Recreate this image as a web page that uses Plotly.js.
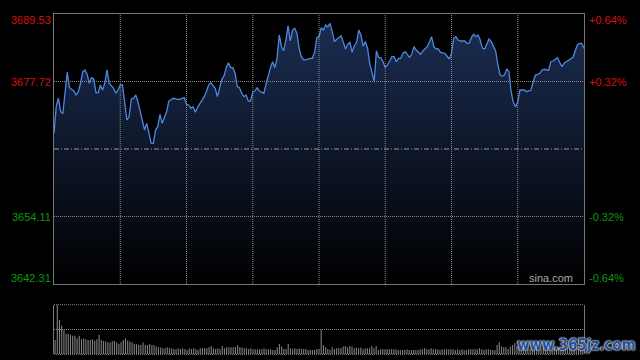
<!DOCTYPE html>
<html><head><meta charset="utf-8">
<script src="https://cdn.plot.ly/plotly-3.0.1.min.js"></script>
<style>html,body{margin:0;padding:0;background:#000;}</style>
</head><body><div id="chart" style="width:640px;height:360px;"></div>
<script>
// Intraday index (minute offset from 09:30, trading minutes)
const minutes = [0,1,2,3,4,5,6,7,9,10,11,12,13,14,15,16,17,18,19,20,21,22,23,24,25,27,28,29,30,31,32,33,34,35,36,37,38,39,40,41,42,43,44,45,46,47,48,49,50,51,52,53,54,56,57,59,60,61,62,63,64,65,67,68,69,70,71,72,73,74,75,76,77,78,79,80,81,82,83,84,85,86,87,88,89,90,91,92,93,95,96,97,98,99,100,101,102,103,104,105,106,107,108,109,110,111,112,113,114,116,117,118,119,120,121,122,123,124,125,126,127,128,130,131,132,133,134,135,136,137,138,139,140,141,142,143,144,145,146,147,148,149,150,151,153,154,155,156,157,158,159,160,161,162,163,164,166,167,169,170,171,172,173,174,175,177,178,179,180,181,182,183,184,186,187,188,189,190,191,192,193,194,195,196,197,198,199,200,201,202,203,204,205,206,207,208,209,210,211,212,213,214,215,216,217,218,219,220,221,222,223,224,225,226,227,228,229,230,231,232,234,235,236,237,238,239,240];
const prices = [3668.67,3673.32,3674.79,3672.44,3672.16,3675.94,3679.33,3676.64,3676.06,3675.36,3675.94,3677.41,3679.44,3679.74,3678.98,3677.41,3678.39,3678.16,3675.77,3675.77,3677.11,3676.24,3677.41,3679.74,3677.41,3676.54,3675.66,3676.24,3677.11,3677.11,3674.19,3670.99,3671.57,3674.66,3674.79,3675.36,3674.19,3672.44,3671.29,3669.24,3670.41,3668.37,3666.92,3666.92,3669.24,3669.82,3671.99,3670.41,3671.29,3672.44,3674.31,3674.49,3674.79,3674.61,3674.61,3674.89,3673.74,3673.62,3673.04,3673.32,3672.34,3673.21,3674.31,3675.07,3675.94,3677.11,3677.52,3676.99,3676.54,3675.07,3676.82,3678.11,3678.69,3680.14,3681.01,3680.14,3680.14,3679.16,3676.82,3676.64,3675.66,3675.07,3675.36,3674.31,3674.31,3675.94,3676.06,3676.64,3676.06,3675.66,3677.24,3678.86,3680.14,3681.19,3680.14,3681.78,3685.86,3683.81,3683.11,3684.98,3687.48,3684.81,3686.73,3687.03,3686.15,3683.53,3682.06,3681.49,3681.49,3681.78,3681.78,3682.83,3685.39,3685.56,3687.13,3686.73,3687.61,3687.31,3687.90,3686.43,3684.69,3685.11,3685.73,3684.58,3683.41,3684.23,3684.58,3682.83,3683.99,3684.58,3686.73,3685.86,3683.93,3684.72,3683.53,3680.79,3679.44,3677.81,3683.11,3681.89,3681.89,3681.19,3680.14,3680.61,3682.06,3682.06,3681.19,3681.78,3681.78,3682.66,3682.94,3682.53,3681.96,3682.48,3683.81,3683.23,3682.48,3683.06,3683.81,3684.69,3685.56,3683.81,3683.41,3683.41,3682.83,3682.66,3682.24,3681.66,3682.66,3685.28,3685.56,3684.98,3684.81,3684.81,3684.41,3684.41,3685.39,3685.98,3685.56,3685.86,3684.98,3683.53,3683.41,3684.41,3685.16,3684.69,3683.99,3683.06,3680.61,3678.86,3678.69,3678.86,3679.91,3679.44,3675.94,3674.09,3673.32,3674.19,3676.24,3676.24,3676.24,3675.94,3676.06,3676.24,3677.69,3678.86,3678.98,3679.16,3679.74,3679.86,3679.74,3679.74,3681.19,3681.31,3681.61,3681.89,3681.08,3680.31,3680.91,3681.19,3681.61,3681.96,3683.06,3684.11,3684.41,3684.41,3683.53];
// Volume per minute (relative units), minute 0..240
const volumes = [43,148,103,85,73,61,61,58,55,55,48,55,45,48,45,43,43,45,41,45,58,43,40,38,36,35,40,40,35,31,36,43,48,41,38,36,31,30,28,28,35,28,28,31,28,28,23,21,20,18,18,21,18,18,15,15,18,16,18,16,13,18,16,18,15,13,18,18,18,18,21,25,18,16,18,16,
25,18,21,21,21,21,21,28,21,21,18,18,16,18,15,15,15,15,15,18,15,15,15,13,13,21,31,23,16,16,31,18,16,18,16,18,16,16,16,13,13,13,13,16,16,
73,
28,21,16,13,21,16,18,18,18,23,25,21,25,23,18,20,18,20,15,18,18,18,25,18,25,13,15,15,15,15,15,15,15,15,13,13,13,13,15,13,13,13,13,13,15,15,18,15,15,18,15,15,15,13,15,15,15,15,15,15,13,15,13,15,13,13,15,15,15,15,15,18,15,13,15,15,13,13,13,28,36,23,21,21,16,23,28,33,
25,20,18,22,18,20,16,18,22,20,18,16,20,18,22,25,20,18,16,20,18,22,20,18,25,22,20,18,24,28,22];
const volMinutes = volumes.map((v, i) => i);
const prevClose = 3665.92;
const priceTicks = [3689.53, 3677.72, 3654.11, 3642.31];
const pctLabels = ['+0.64%', '+0.32%', '-0.32%', '-0.64%'];
const gridMinutes = [30, 60, 90, 120, 150, 180, 210];

const FONT = 'Arial, "Liberation Sans", sans-serif';
const RED = '#d81010', GREEN = '#0a9a0a';
const GRID = '#8a8a8a', FRAME = '#767676';

const traces = [
  {
    x: minutes, y: prices, type: 'scatter', mode: 'lines',
    line: {color: '#4c88e0', width: 1.3},
    fill: 'tozeroy',
    fillgradient: {type: 'vertical', start: priceTicks[3], stop: priceTicks[0],
      colorscale: [[0, '#000000'], [1, '#1c2e54']]},
    xaxis: 'x', yaxis: 'y', hoverinfo: 'skip'
  },
  {
    x: volMinutes, y: volumes, type: 'bar', width: 0.5,
    marker: {color: '#808080', line: {width: 0}},
    xaxis: 'x2', yaxis: 'y2', hoverinfo: 'skip'
  }
];

const annotations = [];
priceTicks.forEach((v, i) => {
  const col = v > prevClose ? RED : GREEN;
  const ys = i === 0 ? -6 : (i === priceTicks.length - 1 ? 6 : 0);
  annotations.push({xref: 'paper', x: 0, xanchor: 'right', xshift: -1, yref: 'y', y: v,
    yanchor: 'middle', yshift: ys, text: v.toFixed(2), showarrow: false,
    font: {color: col, size: 11, family: FONT}});
  annotations.push({xref: 'paper', x: 1, xanchor: 'left', xshift: 3, yref: 'y', y: v,
    yanchor: 'middle', yshift: ys, text: pctLabels[i], showarrow: false,
    font: {color: col, size: 11, family: FONT}});
});
annotations.push({xref: 'paper', x: 1, xanchor: 'right', xshift: -9, yref: 'y', y: priceTicks[3],
  yanchor: 'middle', yshift: 6, text: 'sina.com', showarrow: false,
  font: {color: '#a8a8a8', size: 11, family: FONT}});
annotations.push({xref: 'paper', x: 1, xanchor: 'left', xshift: -69, yref: 'paper', y: 0.042,
  yanchor: 'middle', text: 'www.365jz.com', showarrow: false,
  font: {color: '#22509c', size: 15, family: '"DejaVu Sans Condensed", "DejaVu Sans", sans-serif', weight: 'bold',
    shadow: '0 0 2px #e0e0e0, 0 0 2px #e0e0e0, 0 0 1px #ffffff'}});

// grid drawn above the filled area, as in the reference
const gridShapes = gridMinutes.map(m => ({type: 'line', layer: 'above', xref: 'x', x0: m, x1: m,
  yref: 'y domain', y0: 0, y1: 1, line: {color: GRID, width: 1, dash: '1px,1px'}}))
  .concat([priceTicks[1], priceTicks[2]].map(p => ({type: 'line', layer: 'above', xref: 'x domain',
  x0: 0, x1: 1, yref: 'y', y0: p, y1: p, line: {color: GRID, width: 1, dash: '1px,1px'}})));

const layout = {
  width: 640, height: 360,
  margin: {l: 54, r: 56, t: 0, b: 0},
  paper_bgcolor: '#000000', plot_bgcolor: '#000000',
  showlegend: false,
  xaxis: {domain: [0, 1], range: [0, 240], anchor: 'y', showticklabels: false, ticks: '',
    showgrid: false, zeroline: false, showline: true, mirror: true, linecolor: FRAME, linewidth: 1},
  yaxis: {domain: [0.21111, 0.96111], range: [priceTicks[3], priceTicks[0]], anchor: 'x',
    showticklabels: false, ticks: '', showgrid: false, zeroline: false,
    showline: true, mirror: true, linecolor: FRAME, linewidth: 1},
  xaxis2: {domain: [0, 1], range: [-0.5, 240.5], anchor: 'y2', showticklabels: false, ticks: '',
    showgrid: false, zeroline: false, showline: false},
  yaxis2: {domain: [0.01583, 0.15361], range: [0, 148], anchor: 'x2', tickvals: [74],
    showticklabels: false, ticks: '', showgrid: true, gridcolor: GRID, griddash: '1px,1px',
    zeroline: false, showline: true, mirror: true, linecolor: FRAME, linewidth: 1},
  shapes: gridShapes.concat([
    {type: 'line', layer: 'above', xref: 'x domain', x0: 0, x1: 1, yref: 'y', y0: prevClose, y1: prevClose,
      line: {color: '#9a9a9a', width: 1, dash: '5px,2px,1px,2px'}},
    {type: 'line', xref: 'x2 domain', x0: 0, x1: 1, yref: 'y2 domain', y0: 1, y1: 1,
      line: {color: GRID, width: 1, dash: '1px,1px'}},
    {type: 'line', xref: 'x2 domain', x0: 0, x1: 1, yref: 'y2 domain', y0: 0, y1: 0,
      line: {color: GRID, width: 1, dash: '1px,1px'}}
  ]),
  annotations: annotations
};

Plotly.newPlot('chart', traces, layout, {displayModeBar: false, staticPlot: true});
</script>
</body></html>
